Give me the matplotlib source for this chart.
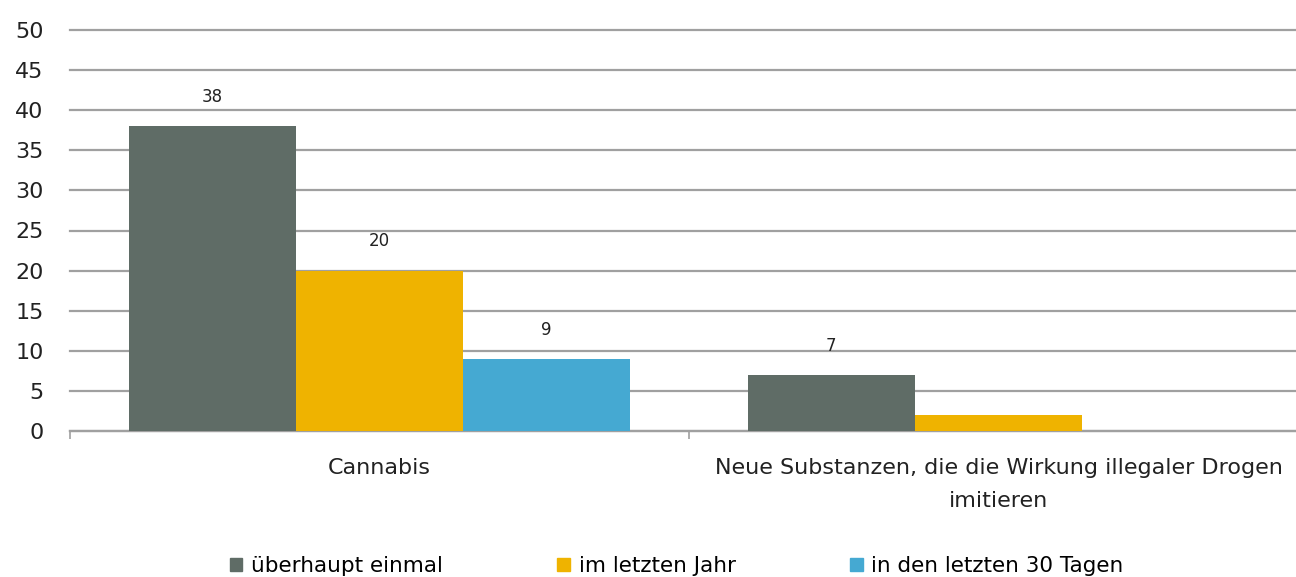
import matplotlib.pyplot as plt, numpy as np
from matplotlib.patches import Patch

# Daten
categories = ['Cannabis', 'Neue Substanzen, die die Wirkung illegaler Drogen\nimitieren']
series = ['überhaupt einmal', 'im letzten Jahr', 'in den letzten 30 Tagen']
ueberhaupt = [38, 7]
letztes_jahr = [20, 2]
letzte_30 = [9, 0]
# Beschriftungen wie im Original (nicht jeder Balken hat eine Zahl)
labels = [['38', '7'], ['20', ''], ['9', '']]
colors = ['#5f6c66', '#efb300', '#45a9d2']

fig = plt.figure(figsize=(12.96, 5.77), dpi=100)
ax = fig.add_axes([70/1296, 1-431/577, 1238/1296, 401/577])

x = np.arange(len(categories))
w = 0.27
for i, vals in enumerate([ueberhaupt, letztes_jahr, letzte_30]):
    bars = ax.bar(x + (i-1)*w, vals, w, color=colors[i], zorder=3)
    for b, lab in zip(bars, labels[i]):
        if lab:
            ax.annotate(lab, (b.get_x()+b.get_width()/2, b.get_height()),
                        xytext=(0, 21), textcoords='offset points',
                        ha='center', va='center', fontsize=12, color='#222222')

ax.set_xlim(-0.5, 1.5)
ax.set_ylim(0, 50)
ax.set_yticks(range(0, 51, 5))
ax.grid(axis='y', color='#a0a0a0', linewidth=1.6, zorder=0)
for gl in ax.get_ygridlines():
    gl.set_clip_on(False)
for s in ['top', 'right', 'left']:
    ax.spines[s].set_visible(False)
ax.spines['bottom'].set_color('#a0a0a0')
ax.spines['bottom'].set_linewidth(1.6)

# Trennstriche zwischen Kategorien
ax.set_xticks([-0.5, 0.5])
ax.set_xticklabels(['', ''])
ax.tick_params(axis='x', length=6, color='#a0a0a0', width=1.2)
ax.tick_params(axis='y', length=0, pad=19, labelsize=16, labelcolor='#222222')

for xi, cat in zip(x, categories):
    ax.text(xi, -3.4, cat, ha='center', va='top', fontsize=16,
            color='#222222', linespacing=1.8, transform=ax.transData)

handles = [Patch(color=c) for c in colors]
fig.legend(handles, series, loc='center', bbox_to_anchor=(0.522, 1-566/577),
           ncol=3, frameon=False, fontsize=15.5, handlelength=0.6, handleheight=0.6,
           handletextpad=0.4, columnspacing=5.3)

fig.savefig('out.png', dpi=100)
